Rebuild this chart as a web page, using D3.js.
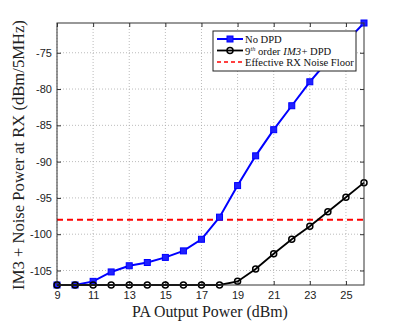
<!DOCTYPE html>
<html><head><meta charset="utf-8">
<script src="https://cdn.jsdelivr.net/npm/d3@7"></script>
<style>body{margin:0;background:#fff}svg{display:block}</style>
</head><body>
<svg id="c" width="399" height="331"></svg>
<script>
const xValues = [9,10,11,12,13,14,15,16,17,18,19,20,21,22,23,24,25,26];
const noDpd = [-107,-107,-106.5,-105.2,-104.35,-103.9,-103.2,-102.3,-100.7,-97.65,-93.3,-89.2,-85.6,-82.3,-79.0,-76.1,-73.5,-70.9];
const dpd9 = [-107,-107,-107,-107,-107,-107,-107,-107,-107,-107,-106.5,-104.8,-102.7,-100.7,-98.9,-96.9,-94.9,-92.9];
const noiseFloor = -98;
const xTicks = [9,11,13,15,17,19,21,23,25];
const yTicks = [-105,-100,-95,-90,-85,-80,-75];
const xGrid = [9,11,13,15,17,19,21,23,25];

const svg = d3.select("#c");
const L=57, R=364, T=23, B=285;
const x = d3.scaleLinear().domain([9,26]).range([L,R]);
const y = d3.scaleLinear().domain([-107,-70.9]).range([B,T]);
const serif = "'Liberation Serif', 'DejaVu Serif', serif";

// grid
const g = svg.append("g");
g.selectAll(".gx").data(xGrid).join("line")
 .attr("x1",d=>x(d)).attr("x2",d=>x(d)).attr("y1",T).attr("y2",B)
 .attr("stroke","#aaa").attr("stroke-width",0.8).attr("stroke-dasharray","1,2");
g.selectAll(".gy").data(yTicks).join("line")
 .attr("x1",L).attr("x2",R).attr("y1",d=>y(d)).attr("y2",d=>y(d))
 .attr("stroke","#aaa").attr("stroke-width",0.8).attr("stroke-dasharray","1,2");

// axes
const ax = d3.axisBottom(x).tickValues(xTicks).tickSize(-4).tickPadding(6).tickFormat(d3.format("d"));
const ay = d3.axisLeft(y).tickValues(yTicks).tickSize(-4).tickPadding(5).tickFormat(d=>d);
const axT = d3.axisTop(x).tickValues(xTicks).tickSize(-4).tickFormat("");
const ayR = d3.axisRight(y).tickValues(yTicks).tickSize(-4).tickFormat("");
function style(s){
  s.select(".domain").remove();
  s.selectAll("line").attr("stroke","#333");
  s.selectAll("text").attr("fill","#222").style("font-family","'Liberation Sans', Arial, sans-serif").style("font-size","11px");
}
svg.append("g").attr("transform",`translate(0,${B})`).call(ax).call(style);
svg.append("g").attr("transform",`translate(${L},0)`).call(ay).call(style);
svg.append("g").attr("transform",`translate(0,${T})`).call(axT).call(style);
svg.append("g").attr("transform",`translate(${R},0)`).call(ayR).call(style);

// noise floor
svg.append("line").attr("x1",x(9)).attr("x2",x(26)).attr("y1",y(noiseFloor)).attr("y2",y(noiseFloor))
 .attr("stroke","#ff0000").attr("stroke-width",2).attr("stroke-dasharray","6,4");

const line = d3.line().x((d,i)=>x(xValues[i])).y(d=>y(d));
svg.append("path").datum(noDpd).attr("d",line).attr("fill","none").attr("stroke","#0000ff").attr("stroke-width",2);
svg.selectAll(".sq").data(noDpd).join("rect")
 .attr("x",(d,i)=>x(xValues[i])-3).attr("y",d=>y(d)-3).attr("width",6).attr("height",6)
 .attr("fill","#2020ff").attr("stroke","#0000ff").attr("stroke-width",1);
svg.append("path").datum(dpd9).attr("d",line).attr("fill","none").attr("stroke","#000").attr("stroke-width",1.8);
svg.selectAll(".ci").data(dpd9).join("circle")
 .attr("cx",(d,i)=>x(xValues[i])).attr("cy",d=>y(d)).attr("r",3)
 .attr("fill","none").attr("stroke","#000").attr("stroke-width",1.5);

// box
svg.append("rect").attr("x",L).attr("y",T).attr("width",R-L).attr("height",B-T)
 .attr("fill","none").attr("stroke","#333").attr("stroke-width",1);

// legend
const lg = svg.append("g");
lg.append("rect").attr("x",213).attr("y",31).attr("width",143).attr("height",40)
 .attr("fill","#fff").attr("stroke","#222").attr("stroke-width",1);
const rows = [39,50.5,62];
lg.append("line").attr("x1",217).attr("x2",243).attr("y1",rows[0]).attr("y2",rows[0]).attr("stroke","#0000ff").attr("stroke-width",2);
lg.append("rect").attr("x",227).attr("y",rows[0]-3).attr("width",6).attr("height",6).attr("fill","#2020ff").attr("stroke","#0000ff");
lg.append("line").attr("x1",217).attr("x2",243).attr("y1",rows[1]).attr("y2",rows[1]).attr("stroke","#000").attr("stroke-width",1.8);
lg.append("circle").attr("cx",230).attr("cy",rows[1]).attr("r",3).attr("fill","none").attr("stroke","#000").attr("stroke-width",1.5);
lg.append("line").attr("x1",217).attr("x2",243).attr("y1",rows[2]).attr("y2",rows[2]).attr("stroke","#ff0000").attr("stroke-width",1.5).attr("stroke-dasharray","4,3");

const probe = lg.append("text").style("font-family",serif).style("font-size","12px").text("Effective RX Noise Floor");
const fs = 12*109/probe.node().getComputedTextLength();
probe.remove();

function pieces(x0, yy, parts){
  let cx = x0;
  parts.forEach(p=>{
    const t = lg.append("text").attr("x",cx).attr("y",yy+(p.dy||0))
      .style("font-family",serif).style("font-size",(fs*(p.scale||1))+"px")
      .style("font-style",p.italic?"italic":"normal").attr("fill","#111").text(p.t);
    cx += t.node().getComputedTextLength() + (p.gap||0);
  });
}
pieces(245, rows[0]+4, [{t:"No DPD"}]);
pieces(245, rows[1]+4, [{t:"9",gap:0.3},{t:"th",dy:-3.5,scale:0.6,italic:true,gap:2.5},{t:"order",gap:3},{t:"IM3",italic:true,gap:0.5},{t:"+ DPD"}]);
pieces(245, rows[2]+4, [{t:"Effective RX Noise Floor"}]);

const xt = svg.append("text").attr("x",210).attr("y",317).attr("text-anchor","middle")
 .style("font-family",serif).style("font-size","15px").attr("fill","#222").text("PA Output Power (dBm)");
const xw = xt.node().getComputedTextLength();
xt.style("font-size",(15*156/xw)+"px");
const yt = svg.append("text").attr("transform",`translate(24,155) rotate(-90)`).attr("text-anchor","middle")
 .style("font-family",serif).style("font-size","15px").attr("fill","#222").text("IM3 + Noise Power at RX (dBm/5MHz)");
const yw = yt.node().getComputedTextLength();
yt.style("font-size",(15*270/yw)+"px");
</script>
</body></html>
